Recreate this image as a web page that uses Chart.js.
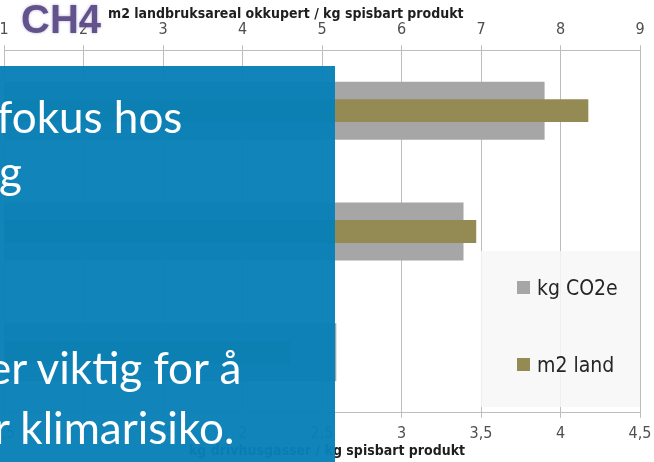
<!DOCTYPE html>
<html>
<head>
<meta charset="utf-8">
<script src="https://cdn.jsdelivr.net/npm/chart.js@4"></script>
<style>
  html, body { margin: 0; padding: 0; background: #fff; }
  #wrap { position: relative; width: 654px; height: 462px; overflow: hidden; }
  #chart { position: absolute; left: 0; top: 0; }
  .axis-title { position: absolute; white-space: nowrap; font: bold 14px 'DejaVu Sans Condensed', 'DejaVu Sans', sans-serif; color: #1e1e1e; }
  #legend { position: absolute; left: 481px; top: 251px; width: 159px; height: 156px; background: rgba(247,247,247,0.85); }
  .leg-item { position: absolute; left: 36px; white-space: nowrap; font: 21px 'DejaVu Sans Condensed', 'DejaVu Sans', sans-serif; color: #262626; }
  .leg-box { display: inline-block; width: 13px; height: 13px; margin-right: 7px; vertical-align: 1px; }
  #ch4 { position: absolute; left: 21px; top: -3px; font: bold 40px 'Liberation Sans', Arial, sans-serif; color: #5b4a86; text-shadow: 0 0 3px #b7acd0; opacity: 0.95; }
  #panel { position: absolute; left: -20px; top: 66px; width: 355px; height: 420px; background: rgba(8,128,182,0.965); }
  .line { position: absolute; white-space: nowrap; font: 44px Lato, 'Open Sans', sans-serif; color: #fff; }
</style>
</head>
<body>
<div id="wrap">
  <canvas id="chart" width="654" height="462"></canvas>
  <div class="axis-title" style="left:108px; top:5px;">m2 landbruksareal okkupert / kg spisbart produkt</div>
  <div class="axis-title" style="left:189px; top:442px;">kg drivhusgasser / kg spisbart produkt</div>
  <div id="legend"></div>
  <div id="ch4">CH4</div>
  <div id="panel">
    <div class="line" style="left:17px; top:24px;">fokus hos</div>
    <div class="line" style="left:19px; top:79px;">g</div>
    <div class="line" style="left:8px; top:275px;">er viktig for å</div>
    <div class="line" style="left:14px; top:335px;">r klimarisiko.</div>
  </div>
</div>
<script>
'use strict';
const categories = ['Produkt A', 'Produkt B', 'Produkt C'];
const co2Values = [3.9, 3.39, 2.59];
const landValues = [8.35, 6.94, 4.6];
const co2Ticks = [0.5, 4.5, 0.5];
const landTicks = [1, 9, 1];
const seriesNames = ['kg CO2e', 'm2 land'];
const seriesColors = ['#a6a6a6', '#948a54'];

const tickFont = {family: "'DejaVu Sans Condensed', 'DejaVu Sans', sans-serif", size: 16};
const gridColor = '#bdbdbd';

const noPad = function(scale){
  scale.paddingLeft = 0;
  scale.paddingRight = 0;
};

const axis = function(position, ticks, fmt){
  return {
    type: 'linear',
    position: position,
    min: ticks[0],
    max: ticks[1],
    ticks: {stepSize: ticks[2], autoSkip: false, maxRotation: 0, padding: 6, color: '#4f4f4f', font: tickFont, callback: fmt},
    grid: {color: gridColor, tickLength: 5},
    border: {color: gridColor},
    afterFit: noPad
  };
};

const ctx = document.getElementById('chart').getContext('2d');
new Chart(ctx, {
  type: 'bar',
  data: {
    labels: categories,
    datasets: [{
      label: seriesNames[0],
      data: co2Values,
      xAxisID: 'x',
      backgroundColor: seriesColors[0],
      grouped: false,
      categoryPercentage: 1,
      barPercentage: 0.48,
      order: 2
    }, {
      label: seriesNames[1],
      data: landValues,
      xAxisID: 'x2',
      backgroundColor: seriesColors[1],
      grouped: false,
      categoryPercentage: 1,
      barPercentage: 0.19,
      order: 1
    }]
  },
  options: {
    indexAxis: 'y',
    responsive: false,
    animation: false,
    layout: {padding: {left: 4, right: 14, top: 14, bottom: 13}},
    plugins: {legend: {display: false}, tooltip: {enabled: false}},
    scales: {
      x: axis('bottom', co2Ticks, v => String(v).replace('.', ',')),
      x2: axis('top', landTicks, v => String(v)),
      y: {display: false}
    }
  }
});

// legend built from the series arrays
const legend = document.getElementById('legend');
seriesNames.forEach((name, i) => {
  const item = document.createElement('div');
  item.className = 'leg-item';
  item.style.top = (i === 0 ? 25 : 102) + 'px';
  item.innerHTML = '<span class="leg-box" style="background:' + seriesColors[i] + '"></span>' + name;
  legend.appendChild(item);
});
</script>
</body>
</html>
